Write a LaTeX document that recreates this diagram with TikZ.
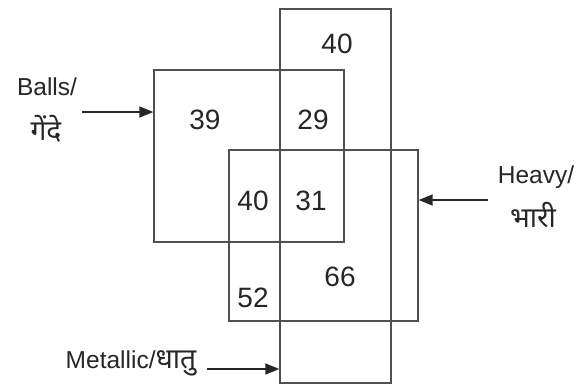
\documentclass[tikz,border=0pt]{standalone}
\usepackage{fontspec}
\setmainfont{Liberation Sans}
\newfontfamily\devfont[Script=Devanagari,Scale=1.15]{Noto Sans}
\usetikzlibrary{arrows.meta}
\definecolor{boxline}{HTML}{505050}
\definecolor{ink}{HTML}{262626}
\tikzset{
  setbox/.style={draw=boxline,line width=1.4pt,minimum width=#1,inner sep=0pt},
  num/.style={text=ink,font=\fontsize{28}{32}\selectfont},
  lbl/.style={text=ink,font=\fontsize{24.5}{28}\selectfont},
  arr/.style={-{Triangle[length=14pt,width=11pt]},draw=ink,line width=1.5pt}
}
\begin{document}
\begin{tikzpicture}[x=1pt,y=-1pt]
    \useasboundingbox[fill=white] (0,0) rectangle (577,389);
    % the three sets
    \node[setbox=190pt,minimum height=172pt] (balls) at (249,156) {};
    \node[setbox=111pt,minimum height=374pt] (metal) at (335.5,196) {};
    \node[setbox=189pt,minimum height=171pt] (heavy) at (323.5,235.5) {};
    % counts
    \node[num] (n40a) at (337,44) {40};
    \node[num] (n39) at (205,120) {39};
    \node[num] (n29) at (313,120) {29};
    \node[num] (n40b) at (253,201) {40};
    \node[num] (n31) at (311,201) {31};
    \node[num] (n66) at (340,277) {66};
    \node[num] (n52) at (253,298) {52};
    % labels
    \node[lbl] (ballsa) at (47,87) {Balls/};
    \node[lbl] (ballsb) at (46,129) {\devfont गेंदे};
    \node[lbl] (heavya) at (536,177) {Heavy/};
    \node[lbl] (heavyb) at (533,215) {\devfont भारी};
    \node[lbl] (metallbl) at (131,363) {Metallic/\devfont धातु};
    % arrows
    \coordinate (bin) at (82,112);
    \coordinate (hin) at (488,200);
    \coordinate (min) at (207,369);
    \draw[arr] (bin) -- (bin -| balls.west);
    \draw[arr] (hin) -- (hin -| heavy.east);
    \draw[arr] (min) -- (min -| metal.west);
\end{tikzpicture}
\end{document}
